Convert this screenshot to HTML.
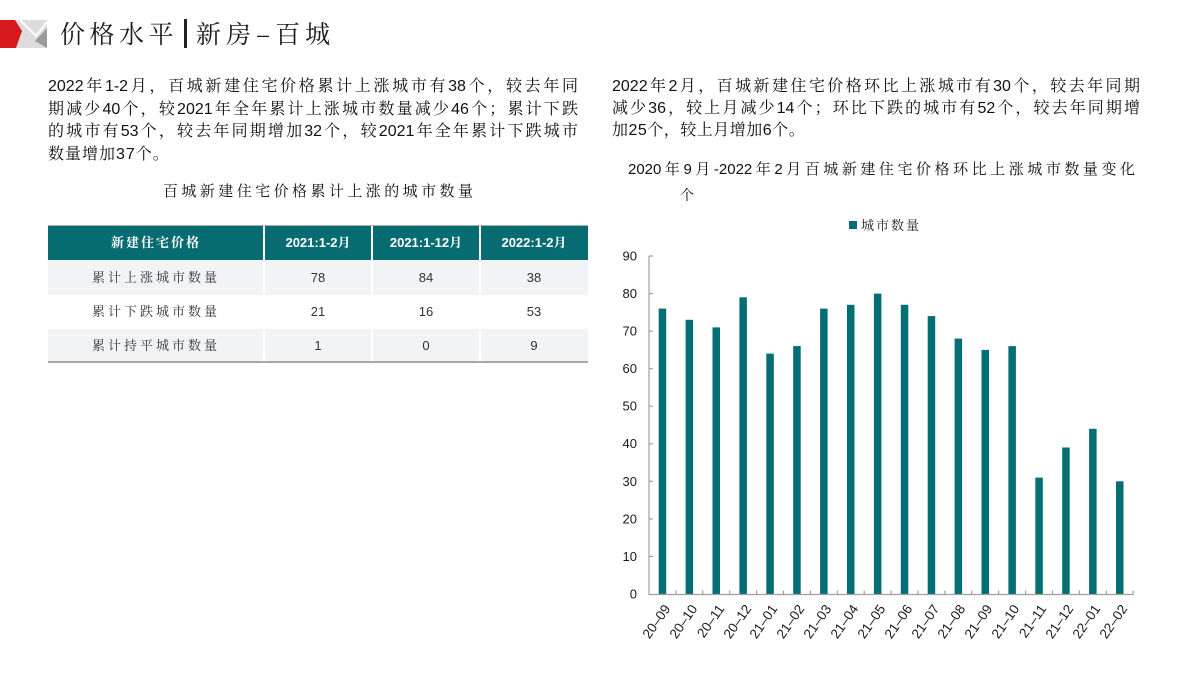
<!DOCTYPE html>
<html><head><meta charset="utf-8">
<style>
*{margin:0;padding:0;box-sizing:border-box}
html,body{width:1200px;height:675px;background:#fff;overflow:hidden}
body{position:relative;font-family:"Liberation Sans","Noto Serif CJK SC",serif;color:#111}
.abs{position:absolute}
.jl{display:block;text-align:justify;text-align-last:justify;text-justify:inter-character;white-space:normal;overflow:hidden}
.para{font-size:16px}
.para div{height:22.5px;line-height:22.5px}
.rpara div{height:22px;line-height:22px}
</style></head><body>

<!-- logo -->
<svg class="abs" style="left:0;top:0" width="60" height="60">
  <polygon points="15,20 47,20 47,48 15,48" fill="#dcdcdc"/>
  <polyline points="20,20 36,36 47,22" fill="none" stroke="#fff" stroke-width="2"/>
  <polygon points="47,28 35,41 47,48" fill="#9a9a9a"/>
  <polygon points="0,20 15,20 22,31 16,48 0,48" fill="#d71920"/>
</svg>
<div class="abs" style="left:60px;top:15px;font-size:25px;line-height:36px;letter-spacing:4.5px;font-family:'Noto Serif CJK SC',serif;color:#1a1a1a">价格水平</div>
<div class="abs" style="left:184px;top:19px;width:2.5px;height:29px;background:#222"></div>
<div class="abs" style="left:196px;top:15px;font-size:25px;line-height:36px;letter-spacing:5px;font-family:'Noto Serif CJK SC',serif;color:#1a1a1a">新房–百城</div>

<!-- left paragraph -->
<div class="abs para" style="left:48px;top:76px;width:530px">
  <div class="jl">2022年1-2月，百城新建住宅价格累计上涨城市有38个，较去年同</div>
  <div class="jl">期减少40个，较2021年全年累计上涨城市数量减少46个；累计下跌</div>
  <div class="jl">的城市有53个，较去年同期增加32个，较2021年全年累计下跌城市</div>
  <div style="letter-spacing:1px">数量增加37个。</div>
</div>

<!-- right paragraph -->
<div class="abs para rpara" style="left:612px;top:76px;width:528px">
  <div class="jl">2022年2月，百城新建住宅价格环比上涨城市有30个，较去年同期</div>
  <div class="jl">减少36，较上月减少14个；环比下跌的城市有52个，较去年同期增</div>
  <div style="letter-spacing:0.5px">加25个，较上月增加6个。</div>
</div>

<!-- table title -->
<div class="abs jl" style="left:163px;top:181px;width:310px;font-size:15px;line-height:22px;height:22px">百城新建住宅价格累计上涨的城市数量</div>

<!-- table -->
<div class="abs" style="left:48px;top:225px;width:540px;height:1px;background:#b0b0b0"></div>
<div class="abs" style="left:48px;top:226px;width:540px;height:34px;background:#076c71"></div>
<div class="abs" style="left:48px;top:260px;width:540px;height:35px;background:#f2f3f5"></div>
<div class="abs" style="left:48px;top:329px;width:540px;height:33px;background:#f2f3f5"></div>
<div class="abs" style="left:48px;top:361px;width:540px;height:2px;background:#a8a8a8"></div>
<div class="abs" style="left:263px;top:226px;width:2px;height:135px;background:#fff"></div>
<div class="abs" style="left:371px;top:226px;width:2px;height:135px;background:#fff"></div>
<div class="abs" style="left:479px;top:226px;width:2px;height:135px;background:#fff"></div>

<div class="abs" style="left:48px;top:226px;width:216px;height:34px;line-height:34px;text-align:center;color:#fff;font-weight:bold;font-size:13px;letter-spacing:2px">新建住宅价格</div>
<div class="abs" style="left:264px;top:226px;width:108px;height:34px;line-height:34px;text-align:center;color:#fff;font-weight:bold;font-size:13px">2021:1-2月</div>
<div class="abs" style="left:372px;top:226px;width:108px;height:34px;line-height:34px;text-align:center;color:#fff;font-weight:bold;font-size:13px">2021:1-12月</div>
<div class="abs" style="left:480px;top:226px;width:108px;height:34px;line-height:34px;text-align:center;color:#fff;font-weight:bold;font-size:13px">2022:1-2月</div>

<div class="abs" style="left:48px;top:260px;width:216px;height:35px;line-height:35px;text-align:center;font-size:13px;letter-spacing:3px;color:#333">累计上涨城市数量</div>
<div class="abs" style="left:264px;top:260px;width:108px;height:35px;line-height:35px;text-align:center;font-size:13px;color:#333">78</div>
<div class="abs" style="left:372px;top:260px;width:108px;height:35px;line-height:35px;text-align:center;font-size:13px;color:#333">84</div>
<div class="abs" style="left:480px;top:260px;width:108px;height:35px;line-height:35px;text-align:center;font-size:13px;color:#333">38</div>

<div class="abs" style="left:48px;top:295px;width:216px;height:34px;line-height:34px;text-align:center;font-size:13px;letter-spacing:3px;color:#333">累计下跌城市数量</div>
<div class="abs" style="left:264px;top:295px;width:108px;height:34px;line-height:34px;text-align:center;font-size:13px;color:#333">21</div>
<div class="abs" style="left:372px;top:295px;width:108px;height:34px;line-height:34px;text-align:center;font-size:13px;color:#333">16</div>
<div class="abs" style="left:480px;top:295px;width:108px;height:34px;line-height:34px;text-align:center;font-size:13px;color:#333">53</div>

<div class="abs" style="left:48px;top:329px;width:216px;height:33px;line-height:33px;text-align:center;font-size:13px;letter-spacing:3px;color:#333">累计持平城市数量</div>
<div class="abs" style="left:264px;top:329px;width:108px;height:33px;line-height:33px;text-align:center;font-size:13px;color:#333">1</div>
<div class="abs" style="left:372px;top:329px;width:108px;height:33px;line-height:33px;text-align:center;font-size:13px;color:#333">0</div>
<div class="abs" style="left:480px;top:329px;width:108px;height:33px;line-height:33px;text-align:center;font-size:13px;color:#333">9</div>

<!-- chart title -->
<div class="abs jl" style="left:628px;top:159px;width:507px;font-size:15px;line-height:22px;height:22px">2020年9月-2022年2月百城新建住宅价格环比上涨城市数量变化</div>
<div class="abs" style="left:680px;top:185px;font-size:14px;line-height:20px">个</div>

<!-- chart -->
<svg class="abs" style="left:0;top:0" width="1200" height="675" font-family="Liberation Sans, Noto Serif CJK SC, serif">
  <rect x="849" y="221" width="8" height="8" fill="#036e73"/>
  <text x="861" y="230" font-size="13" letter-spacing="2" fill="#222">城市数量</text>

  <g font-size="13" fill="#1a1a1a" text-anchor="end">
    <text x="637" y="260.5">90</text>
    <text x="637" y="298">80</text>
    <text x="637" y="335.5">70</text>
    <text x="637" y="373">60</text>
    <text x="637" y="410.5">50</text>
    <text x="637" y="448">40</text>
    <text x="637" y="486">30</text>
    <text x="637" y="523.5">20</text>
    <text x="637" y="561">10</text>
    <text x="637" y="598.5">0</text>
  </g>

  <g fill="#036e73">
    <rect x="658.7" y="308.6" width="7.5" height="285.4"/>
    <rect x="685.6" y="319.8" width="7.5" height="274.2"/>
    <rect x="712.5" y="327.4" width="7.5" height="266.6"/>
    <rect x="739.4" y="297.3" width="7.5" height="296.7"/>
    <rect x="766.3" y="353.6" width="7.5" height="240.4"/>
    <rect x="793.2" y="346.1" width="7.5" height="247.9"/>
    <rect x="820.1" y="308.6" width="7.5" height="285.4"/>
    <rect x="847.0" y="304.8" width="7.5" height="289.2"/>
    <rect x="873.9" y="293.6" width="7.5" height="300.4"/>
    <rect x="900.8" y="304.8" width="7.5" height="289.2"/>
    <rect x="927.7" y="316.1" width="7.5" height="277.9"/>
    <rect x="954.6" y="338.6" width="7.5" height="255.4"/>
    <rect x="981.5" y="349.9" width="7.5" height="244.1"/>
    <rect x="1008.4" y="346.1" width="7.5" height="247.9"/>
    <rect x="1035.3" y="477.6" width="7.5" height="116.4"/>
    <rect x="1062.2" y="447.5" width="7.5" height="146.5"/>
    <rect x="1089.1" y="428.8" width="7.5" height="165.2"/>
    <rect x="1116.0" y="481.3" width="7.5" height="112.7"/>
  </g>

  <g stroke="#a0a0a0" stroke-width="1.2">
    <line x1="649" y1="256" x2="649" y2="594.5"/>
    <line x1="648.5" y1="594.5" x2="1133.5" y2="594.5"/>
    <line x1="649" y1="256" x2="653" y2="256"/>
    <line x1="649" y1="293.6" x2="653" y2="293.6"/>
    <line x1="649" y1="331.1" x2="653" y2="331.1"/>
    <line x1="649" y1="368.7" x2="653" y2="368.7"/>
    <line x1="649" y1="406.2" x2="653" y2="406.2"/>
    <line x1="649" y1="443.8" x2="653" y2="443.8"/>
    <line x1="649" y1="481.3" x2="653" y2="481.3"/>
    <line x1="649" y1="518.9" x2="653" y2="518.9"/>
    <line x1="649" y1="556.4" x2="653" y2="556.4"/>
    <line x1="675.9" y1="590.5" x2="675.9" y2="594.5"/>
    <line x1="702.8" y1="590.5" x2="702.8" y2="594.5"/>
    <line x1="729.7" y1="590.5" x2="729.7" y2="594.5"/>
    <line x1="756.6" y1="590.5" x2="756.6" y2="594.5"/>
    <line x1="783.5" y1="590.5" x2="783.5" y2="594.5"/>
    <line x1="810.4" y1="590.5" x2="810.4" y2="594.5"/>
    <line x1="837.3" y1="590.5" x2="837.3" y2="594.5"/>
    <line x1="864.2" y1="590.5" x2="864.2" y2="594.5"/>
    <line x1="891.1" y1="590.5" x2="891.1" y2="594.5"/>
    <line x1="918.0" y1="590.5" x2="918.0" y2="594.5"/>
    <line x1="944.9" y1="590.5" x2="944.9" y2="594.5"/>
    <line x1="971.8" y1="590.5" x2="971.8" y2="594.5"/>
    <line x1="998.7" y1="590.5" x2="998.7" y2="594.5"/>
    <line x1="1025.6" y1="590.5" x2="1025.6" y2="594.5"/>
    <line x1="1052.5" y1="590.5" x2="1052.5" y2="594.5"/>
    <line x1="1079.4" y1="590.5" x2="1079.4" y2="594.5"/>
    <line x1="1106.3" y1="590.5" x2="1106.3" y2="594.5"/>
    <line x1="1133.2" y1="590.5" x2="1133.2" y2="594.5"/>
  </g>

  <g font-size="13.5" fill="#1a1a1a" text-anchor="end">
    <text transform="translate(667,606) rotate(-55)" dy="0.35em">20–09</text>
    <text transform="translate(694,606) rotate(-55)" dy="0.35em">20–10</text>
    <text transform="translate(721,606) rotate(-55)" dy="0.35em">20–11</text>
    <text transform="translate(748,606) rotate(-55)" dy="0.35em">20–12</text>
    <text transform="translate(774,606) rotate(-55)" dy="0.35em">21–01</text>
    <text transform="translate(801,606) rotate(-55)" dy="0.35em">21–02</text>
    <text transform="translate(828,606) rotate(-55)" dy="0.35em">21–03</text>
    <text transform="translate(855,606) rotate(-55)" dy="0.35em">21–04</text>
    <text transform="translate(882,606) rotate(-55)" dy="0.35em">21–05</text>
    <text transform="translate(909,606) rotate(-55)" dy="0.35em">21–06</text>
    <text transform="translate(936,606) rotate(-55)" dy="0.35em">21–07</text>
    <text transform="translate(962,606) rotate(-55)" dy="0.35em">21–08</text>
    <text transform="translate(989,606) rotate(-55)" dy="0.35em">21–09</text>
    <text transform="translate(1016,606) rotate(-55)" dy="0.35em">21–10</text>
    <text transform="translate(1043,606) rotate(-55)" dy="0.35em">21–11</text>
    <text transform="translate(1070,606) rotate(-55)" dy="0.35em">21–12</text>
    <text transform="translate(1097,606) rotate(-55)" dy="0.35em">22–01</text>
    <text transform="translate(1124,606) rotate(-55)" dy="0.35em">22–02</text>
  </g>
</svg>
</body></html>
